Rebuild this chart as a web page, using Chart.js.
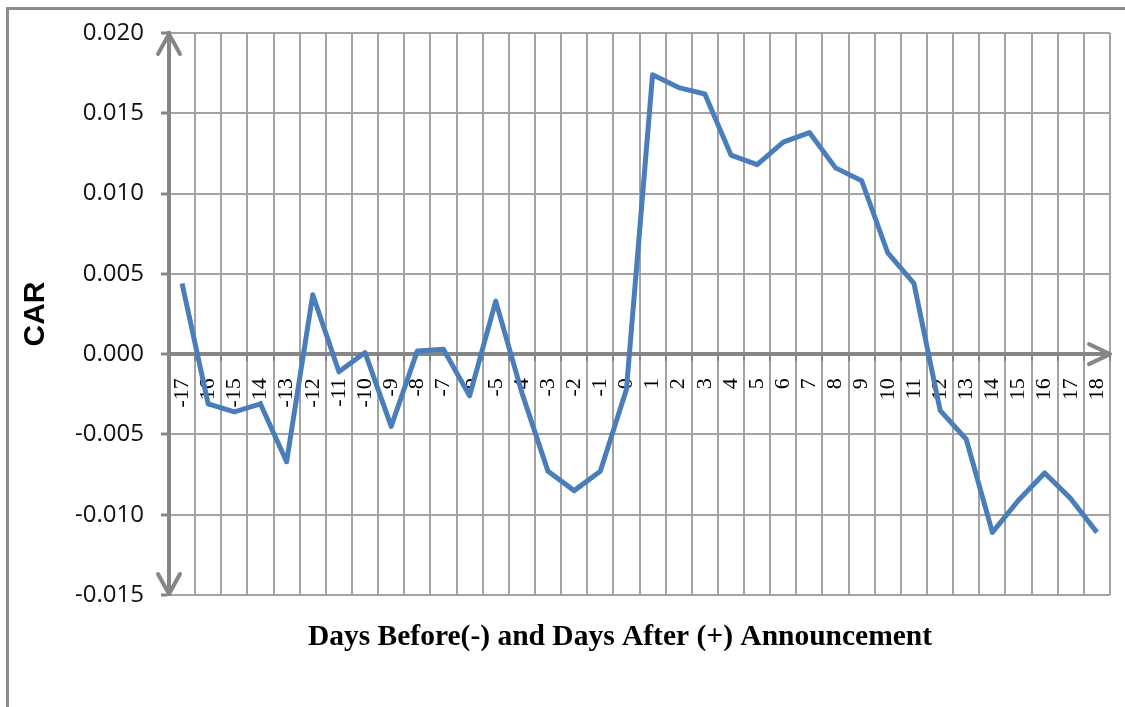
<!DOCTYPE html>
<html>
<head>
<meta charset="utf-8">
<title>CAR</title>
<script src="https://cdn.jsdelivr.net/npm/chart.js@4.4.0/dist/chart.umd.min.js"></script>
<style>
  html, body { margin: 0; padding: 0; background: #fff; }
</style>
</head>
<body>
<canvas id="carChart" width="1125" height="707"></canvas>
<script>
// days around the announcement
const days = ["-17", "-16", "-15", "-14", "-13", "-12", "-11", "-10", "-9", "-8", "-7", "-6",
  "-5", "-4", "-3", "-2", "-1", "0", "1", "2", "3", "4", "5", "6",
  "7", "8", "9", "10", "11", "12", "13", "14", "15", "16", "17", "18"];

// cumulative abnormal return
const carValues = [0.0044, -0.0031, -0.0036, -0.0031, -0.0067, 0.0037, -0.0011, 0.0001, -0.0045, 0.0002, 0.0003, -0.0026,
  0.0033, -0.0024, -0.0073, -0.0085, -0.0073, -0.0022, 0.0174, 0.0166, 0.0162, 0.0124, 0.0118, 0.0132,
  0.0138, 0.0116, 0.0108, 0.0063, 0.0044, -0.0035, -0.0053, -0.0111, -0.0091, -0.0074, -0.0090, -0.0111];

const yMin = -0.015;
const yMax = 0.020;
const yStep = 0.005;

const axisGray = "#868686";
const gridGray = "#a3a3a3";

// outer frame, axis arrows and the x title
const decorations = {
  id: "decorations",
  beforeDraw(chart) {
    const ctx = chart.ctx;
    ctx.save();
    ctx.fillStyle = "#fff";
    ctx.fillRect(0, 0, chart.width, chart.height);
    ctx.strokeStyle = "#8c8c8c";
    ctx.lineWidth = 3;
    ctx.beginPath();
    ctx.moveTo(7.5, chart.height);
    ctx.lineTo(7.5, 8.5);
    ctx.lineTo(chart.width, 8.5);
    ctx.stroke();
    ctx.restore();
  },
  afterDraw(chart) {
    const ctx = chart.ctx;
    const area = chart.chartArea;
    const y0 = chart.scales.y.getPixelForValue(0);
    const ax = area.left;
    ctx.save();
    ctx.strokeStyle = axisGray;
    ctx.lineWidth = 4;
    ctx.lineCap = "round";
    ctx.lineJoin = "round";
    // up arrow
    ctx.beginPath();
    ctx.moveTo(ax - 11, area.top + 21);
    ctx.lineTo(ax, area.top + 1);
    ctx.lineTo(ax + 11, area.top + 21);
    ctx.stroke();
    // down arrow
    ctx.beginPath();
    ctx.moveTo(ax - 11, area.bottom - 21);
    ctx.lineTo(ax, area.bottom - 1);
    ctx.lineTo(ax + 11, area.bottom - 21);
    ctx.stroke();
    // right arrow on the zero axis
    ctx.beginPath();
    ctx.moveTo(area.right - 21, y0 - 10);
    ctx.lineTo(area.right, y0);
    ctx.lineTo(area.right - 21, y0 + 10);
    ctx.stroke();

    ctx.fillStyle = "#000";
    ctx.font = "bold 29.5px 'Liberation Serif'";
    ctx.textAlign = "center";
    ctx.textBaseline = "middle";
    ctx.fillText("Days Before(-) and Days After (+) Announcement", 620, 637);
    ctx.restore();
  }
};

new Chart("carChart", {
  type: "line",
  data: {
    labels: days,
    datasets: [
      {
        label: "CAR",
        data: carValues,
        borderColor: "#4a7ebb",
        borderWidth: 5,
        borderJoinStyle: "round",
        pointRadius: 0,
        tension: 0,
        fill: false,
      },
    ],
  },
  options: {
    responsive: false,
    animation: false,
    layout: {
      padding: { left: 0, top: 33, right: 15, bottom: 112 },
    },
    plugins: {
      legend: { display: false },
      tooltip: { enabled: false },
    },
    scales: {
      x: {
        position: { y: 0 },
        offset: true,
        afterFit(scale) {
          scale.paddingLeft = 0;
          scale.paddingRight = 0;
        },
        grid: {
          offset: true,
          color: gridGray,
          lineWidth: 2,
          tickLength: 5,
          tickColor: axisGray,
          tickWidth: 2,
        },
        border: { color: axisGray, width: 4 },
        ticks: {
          autoSkip: false,
          minRotation: 90,
          maxRotation: 90,
          padding: 19,
          color: "#000",
          font: { family: "'Liberation Serif'", size: 22 },
        },
      },
      y: {
        min: yMin,
        max: yMax,
        afterFit(scale) {
          scale.width = 169;
        },
        grid: {
          color: gridGray,
          lineWidth: 2,
          tickLength: 8,
          tickColor: axisGray,
          tickWidth: 3,
        },
        border: { color: axisGray, width: 4 },
        ticks: {
          stepSize: yStep,
          padding: 17,
          color: "#111",
          font: { family: "'Open Sans'", size: 24 },
          callback: (v) => v.toFixed(3),
        },
        title: {
          display: true,
          text: "CAR",
          color: "#000",
          padding: { top: 18, bottom: 0 },
          font: { family: "'Liberation Sans'", size: 30, weight: "bold" },
        },
      },
    },
  },
  plugins: [decorations],
});
</script>
</body>
</html>
